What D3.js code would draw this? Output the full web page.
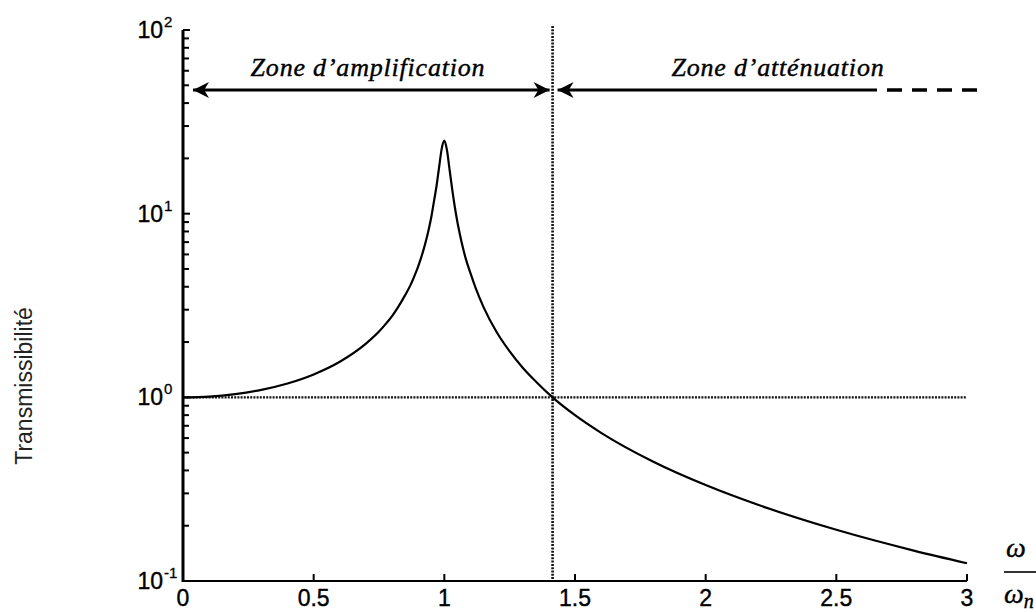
<!DOCTYPE html>
<html><head><meta charset="utf-8">
<script src="https://cdn.jsdelivr.net/npm/d3@7"></script>
<style>body{margin:0;background:#fff}svg{display:block}</style>
</head><body>
<svg id="c" width="1036" height="612"></svg>
<script>
// Frequency ratio omega/omega_n and transmissibility
const ratio = [0, 0.1, 0.2, 0.3, 0.4, 0.5, 0.6, 0.7, 0.75, 0.78, 0.8, 0.82, 0.85, 0.87, 0.88, 0.89, 0.9, 0.91, 0.92, 0.93, 0.94, 0.95, 0.96, 0.97, 0.98, 0.99, 1.0, 1.01, 1.02, 1.03, 1.04, 1.05, 1.06, 1.07, 1.08, 1.1, 1.12, 1.15, 1.2, 1.25, 1.3, 1.35, 1.414, 1.5, 1.6, 1.8, 2.0, 2.2, 2.5, 2.8, 3.0];
const transmissibility = [1.0, 1.01, 1.042, 1.099, 1.19, 1.333, 1.562, 1.96, 2.28, 2.55, 2.77, 3.05, 3.6, 4.07, 4.38, 4.74, 5.17, 5.69, 6.33, 7.15, 8.18, 9.56, 11.6, 14.1, 17.9, 22.6, 25.0, 22.2, 17.4, 13.6, 10.9, 9.0, 7.66, 6.62, 5.82, 4.74, 3.93, 3.1, 2.27, 1.78, 1.45, 1.22, 1.0, 0.8, 0.641, 0.446, 0.333, 0.26, 0.19, 0.146, 0.125];
const xTicks = [0, 0.5, 1, 1.5, 2, 2.5, 3];
const xTickLabels = ["0", "0.5", "1", "1.5", "2", "2.5", "3"];
const yDecades = [-1, 0, 1, 2];
const zoneLabels = ["Zone d\u2019amplification", "Zone d\u2019att\u00e9nuation"];
const boundary = Math.SQRT2;

const svg = d3.select("#c");
const x = d3.scaleLinear().domain([0, 3]).range([183, 967]);
const y = d3.scaleLog().domain([0.1, 100]).range([581, 30]);
const sans = "'Liberation Sans', Arial, sans-serif";
const serif = "'Liberation Serif', 'Times New Roman', serif";

// reference lines
svg.append("line").attr("x1", x(0)).attr("x2", x(3)).attr("y1", y(1)).attr("y2", y(1))
  .attr("stroke", "#111").attr("stroke-width", 2.2).attr("stroke-dasharray", "2,1.2");
svg.append("line").attr("x1", x(boundary)).attr("x2", x(boundary)).attr("y1", 26).attr("y2", y(0.1))
  .attr("stroke", "#111").attr("stroke-width", 2.6).attr("stroke-dasharray", "2,1.3");

// curve
const line = d3.line().x((d, i) => x(ratio[i])).y(d => y(d)).curve(d3.curveMonotoneX);
svg.append("path").attr("d", line(transmissibility)).attr("fill", "none")
  .attr("stroke", "#000").attr("stroke-width", 2.2);

// axes
svg.append("line").attr("x1", x(0)).attr("x2", x(0)).attr("y1", y(100)).attr("y2", y(0.1) + 1)
  .attr("stroke", "#000").attr("stroke-width", 3);
svg.append("line").attr("x1", x(0)).attr("x2", x(3)).attr("y1", y(0.1)).attr("y2", y(0.1))
  .attr("stroke", "#000").attr("stroke-width", 2.2);

// y ticks (major + minor)
const yTickVals = [];
yDecades.forEach(d => {
  yTickVals.push({v: Math.pow(10, d), major: true});
  if (d < 2) for (let k = 2; k <= 9; k++) yTickVals.push({v: k * Math.pow(10, d), major: false});
});
svg.selectAll(".yt").data(yTickVals).enter().append("line")
  .attr("x1", x(0)).attr("x2", d => x(0) + (d.major ? 7 : 6))
  .attr("y1", d => y(d.v)).attr("y2", d => y(d.v))
  .attr("stroke", "#000").attr("stroke-width", 2);

svg.selectAll(".yl").data(yDecades).enter().append("text")
  .attr("x", 163).attr("y", d => y(Math.pow(10, d)) + 8)
  .attr("text-anchor", "end").attr("font-family", sans)
  .attr("font-size", 23).attr("fill", "#000").attr("stroke", "#000").attr("stroke-width", 0.4).text("10");
svg.selectAll(".ye").data(yDecades).enter().append("text")
  .attr("x", 164).attr("y", d => y(Math.pow(10, d)) - 3)
  .attr("font-family", sans)
  .attr("font-size", 15).attr("fill", "#000").attr("stroke", "#000").attr("stroke-width", 0.3).text(d => String(d));

// x ticks
svg.selectAll(".xt").data(xTicks).enter().append("line")
  .attr("x1", d => x(d)).attr("x2", d => x(d)).attr("y1", y(0.1)).attr("y2", y(0.1) - 7)
  .attr("stroke", "#000").attr("stroke-width", 2);
svg.selectAll(".xl").data(xTicks).enter().append("text")
  .attr("x", d => x(d)).attr("y", 606).attr("text-anchor", "middle")
  .attr("font-family", sans).attr("font-size", 23)
  .attr("fill", "#000").attr("stroke", "#000").attr("stroke-width", 0.4).text((d, i) => xTickLabels[i]);

// y axis title
svg.append("text").attr("transform", "translate(32,386) rotate(-90)")
  .attr("text-anchor", "middle").attr("font-family", sans)
  .attr("font-size", 23).attr("fill", "#222").text("Transmissibilit\u00e9");

// x axis title: omega / omega_n
svg.append("text").attr("x", 1016).attr("y", 557).attr("text-anchor", "middle")
  .attr("font-family", serif).attr("font-style", "italic").attr("font-size", 28)
  .attr("stroke", "#000").attr("stroke-width", 0.4).text("\u03c9");
svg.append("line").attr("x1", 1004).attr("x2", 1036).attr("y1", 572).attr("y2", 572)
  .attr("stroke", "#000").attr("stroke-width", 1.6);
const wn = svg.append("text").attr("x", 1004).attr("y", 603)
  .attr("font-family", serif).attr("font-style", "italic").attr("font-size", 28)
  .attr("stroke", "#000").attr("stroke-width", 0.4);
wn.append("tspan").text("\u03c9");
wn.append("tspan").attr("font-size", 20).attr("dy", 5).text("n");

// zone arrows
const ay = 90;
const defs = svg.append("defs");
defs.append("marker").attr("id", "ah").attr("viewBox", "0 0 10 10").attr("refX", 10).attr("refY", 5)
  .attr("markerWidth", 6.5).attr("markerHeight", 5).attr("markerUnits", "strokeWidth").attr("orient", "auto-start-reverse")
  .append("path").attr("d", "M0,0 L10,5 L0,10 L3,5 Z").attr("fill", "#000");

svg.append("line").attr("x1", x(0) + 10).attr("x2", x(boundary) - 3).attr("y1", ay).attr("y2", ay)
  .attr("stroke", "#000").attr("stroke-width", 3.2)
  .attr("marker-start", "url(#ah)").attr("marker-end", "url(#ah)");
svg.append("line").attr("x1", x(boundary) + 5).attr("x2", 877).attr("y1", ay).attr("y2", ay)
  .attr("stroke", "#000").attr("stroke-width", 3.2).attr("marker-start", "url(#ah)");
svg.append("line").attr("x1", 887).attr("x2", 980).attr("y1", ay).attr("y2", ay)
  .attr("stroke", "#000").attr("stroke-width", 3.6).attr("stroke-dasharray", "15,10");

svg.append("text").attr("x", 368).attr("y", 76).attr("text-anchor", "middle")
  .attr("font-family", serif).attr("font-style", "italic").attr("font-size", 26)
  .attr("letter-spacing", 0.8).attr("stroke", "#000").attr("stroke-width", 0.4).text(zoneLabels[0]);
svg.append("text").attr("x", 778).attr("y", 76).attr("text-anchor", "middle")
  .attr("font-family", serif).attr("font-style", "italic").attr("font-size", 26)
  .attr("letter-spacing", 0.8).attr("stroke", "#000").attr("stroke-width", 0.4).text(zoneLabels[1]);
</script>
</body></html>
